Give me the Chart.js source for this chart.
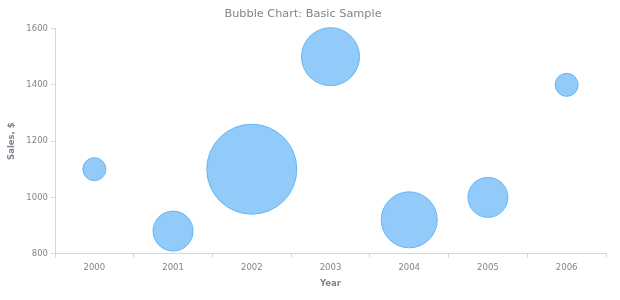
<!DOCTYPE html>
<html>
<head>
<meta charset="utf-8">
<script src="https://cdn.jsdelivr.net/npm/chart.js@4/dist/chart.umd.min.js"></script>
<style>
  html, body { margin: 0; padding: 0; background: #fff; }
  #wrap { width: 620px; height: 300px; }
</style>
</head>
<body>
<div id="wrap"><canvas id="chart"></canvas></div>
<script>
const years = ["2000", "2001", "2002", "2003", "2004", "2005", "2006"];
const sales = [1100, 880, 1100, 1500, 920, 1000, 1400];
const sizes = [11.5, 20, 45, 29, 28, 20, 11.5];
const yTicks = [800, 1000, 1200, 1400, 1600];

const textColor = "#7c868e";
const lineColor = "#d3d6d9";
const font = "'DejaVu Sans', Verdana, sans-serif";

new Chart(document.getElementById("chart"), {
    type: "bubble",
    data: {
        labels: years,
        datasets: [{
            label: "Sales",
            data: years.map((y, i) => ({ x: y, y: sales[i], r: sizes[i] })),
            backgroundColor: "rgba(100,181,246,0.7)",
            borderColor: "#64b5f6",
            borderWidth: 1,
            clip: false,
        }],
    },
    options: {
        responsive: true,
        maintainAspectRatio: false,
        animation: false,
        layout: { autoPadding: false, padding: { left: 0, right: 14, top: 0, bottom: 9 } },
        plugins: {
            legend: { display: false },
            tooltip: { enabled: false },
            title: {
                display: true,
                text: "Bubble Chart: Basic Sample",
                color: textColor,
                font: { family: font, size: 11.3, weight: "normal" },
                padding: { top: 7, bottom: 8 },
            },
        },
        scales: {
            x: {
                type: "category",
                offset: true,
                grid: { offset: true, drawOnChartArea: false, tickLength: 4, color: lineColor },
                border: { color: lineColor },
                ticks: { color: textColor, font: { family: font, size: 8.5 }, padding: 5, maxRotation: 0 },
                title: {
                    display: true, text: "Year", color: textColor,
                    font: { family: font, size: 8.5, weight: "bold" },
                    padding: { top: 1, bottom: 2 },
                },
            },
            y: {
                min: 800,
                max: 1600,
                afterBuildTicks: (scale) => { scale.ticks = yTicks.map(v => ({ value: v })); },
                afterFit: (scale) => { scale.width = 55; },
                grid: { drawOnChartArea: false, tickLength: 4, color: lineColor },
                border: { color: lineColor },
                ticks: { color: textColor, font: { family: font, size: 8.5 }, padding: 3, callback: (v) => String(v) },
                title: {
                    display: true, text: "Sales, $", color: textColor,
                    font: { family: font, size: 8.5, weight: "bold" },
                    padding: { top: 7, bottom: 0 },
                },
            },
        },
    },
});
</script>
</body>
</html>
